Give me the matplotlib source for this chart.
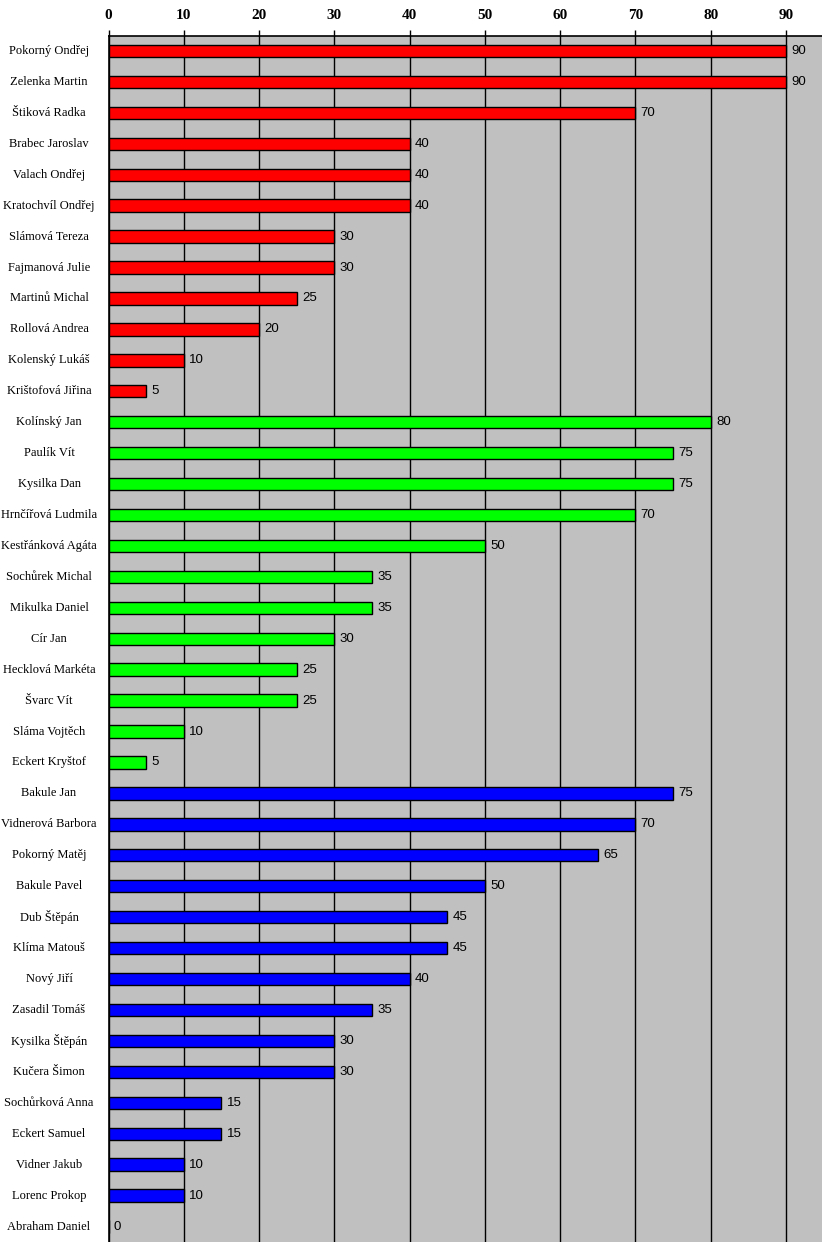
import matplotlib
matplotlib.use("Agg")
import matplotlib.pyplot as plt
import matplotlib.transforms as mtransforms
import numpy as np

red_names = ["Pokorný Ondřej", "Zelenka Martin", "Štiková Radka", "Brabec Jaroslav",
             "Valach Ondřej", "Kratochvíl Ondřej", "Slámová Tereza", "Fajmanová Julie",
             "Martinů Michal", "Rollová Andrea", "Kolenský Lukáš", "Krištofová Jiřina"]
red_vals = [90, 90, 70, 40, 40, 40, 30, 30, 25, 20, 10, 5]

green_names = ["Kolínský Jan", "Paulík Vít", "Kysilka Dan", "Hrnčířová Ludmila",
               "Kestřánková Agáta", "Sochůrek Michal", "Mikulka Daniel", "Cír Jan",
               "Hecklová Markéta", "Švarc Vít", "Sláma Vojtěch", "Eckert Kryštof"]
green_vals = [80, 75, 75, 70, 50, 35, 35, 30, 25, 25, 10, 5]

blue_names = ["Bakule Jan", "Vidnerová Barbora", "Pokorný Matěj", "Bakule Pavel",
              "Dub Štěpán", "Klíma Matouš", "Nový Jiří", "Zasadil Tomáš",
              "Kysilka Štěpán", "Kučera Šimon", "Sochůrková Anna", "Eckert Samuel",
              "Vidner Jakub", "Lorenc Prokop", "Abraham Daniel"]
blue_vals = [75, 70, 65, 50, 45, 45, 40, 35, 30, 30, 15, 15, 10, 10, 0]

ticks = [0, 10, 20, 30, 40, 50, 60, 70, 80, 90]

names = red_names + green_names + blue_names
vals = red_vals + green_vals + blue_vals
colors = ["#FF0000"] * len(red_vals) + ["#00FF00"] * len(green_vals) + ["#0000FF"] * len(blue_vals)

W, H = 822, 1242
fig = plt.figure(figsize=(W / 100, H / 100), dpi=100)
ax = fig.add_axes([108.5 / W, 0, 1 - 108.5 / W, 1 - 35.5 / H])
ax.set_facecolor("#C0C0C0")

y = np.arange(len(names))
ax.barh(y, vals, height=0.4, color=colors, edgecolor="black", linewidth=1, zorder=3)
ax.set_ylim(len(names) - 0.5, -0.5)
ax.set_xlim(0, 90 * (822 - 108.5) / (786 - 108.5))

ax.set_xticks(ticks)
ax.xaxis.tick_top()
ax.tick_params(axis="x", length=4, width=1, pad=6)
for lab in ax.get_xticklabels():
    lab.set_fontfamily("Liberation Serif")
    lab.set_fontweight("bold")
    lab.set_fontsize(11)
ax.grid(axis="x", color="black", linewidth=1, zorder=1)
ax.set_yticks([])
for s in ["right", "bottom"]:
    ax.spines[s].set_visible(False)
ax.spines["top"].set_linewidth(1.2)
ax.spines["left"].set_linewidth(1.2)

# names sit left of the axes, centred in the margin
trans = mtransforms.blended_transform_factory(fig.transFigure, ax.transData)
for i, (n, v) in enumerate(zip(names, vals)):
    ax.text(v + 0.7, i, str(v), va="center", ha="left", fontsize=9.5,
            fontfamily="Liberation Sans", zorder=4)
    t = ax.text(49 / W, i, n, transform=trans, ha="center", va="center",
                fontsize=9, fontfamily="Liberation Serif", clip_on=False)
    t.set_fontstretch("condensed")

fig.savefig("out.png", dpi=100)
